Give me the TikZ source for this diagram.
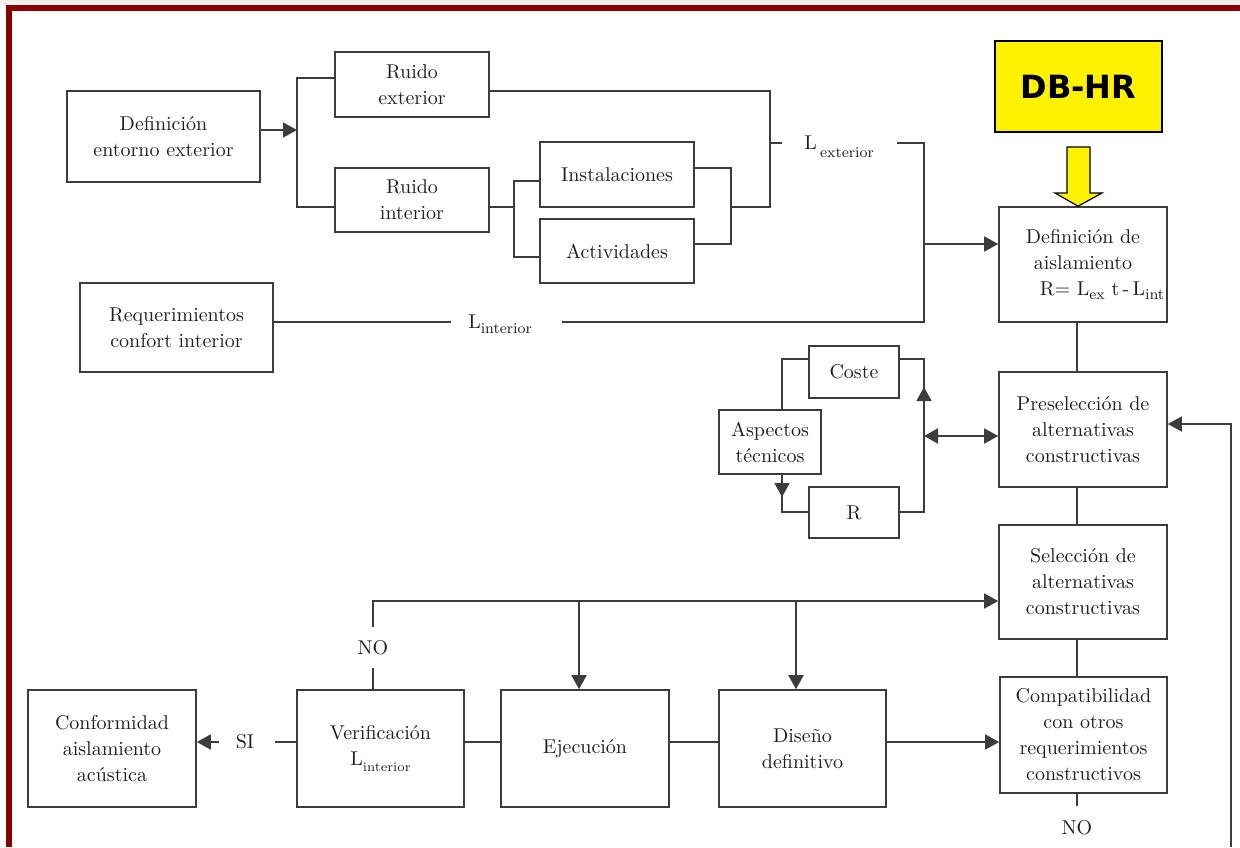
\documentclass[tikz,border=0pt]{standalone}
\usepackage{fontspec}
\newfontfamily\dbfont{DejaVu Sans}
\usetikzlibrary{arrows.meta}
\definecolor{linec}{HTML}{3C3C3C}
\definecolor{txtc}{HTML}{1E1E1E}
\definecolor{framered}{HTML}{880000}
\tikzset{
  bx/.style={draw=linec, line width=0.8pt, inner sep=0pt, align=center, text=txtc, font=\fontsize{10}{13}\selectfont},
  ln/.style={draw=linec, line width=0.8pt},
  arr/.style={ln, -{Triangle[length=7pt,width=7.5pt]}},
  arrtwo/.style={ln, {Triangle[length=7pt,width=7.5pt]}-{Triangle[length=7pt,width=7.5pt]}},
  lbl/.style={text=txtc, font=\fontsize{10}{13}\selectfont, inner sep=0pt},
}
\newcommand{\sub}[1]{\raisebox{-0.55ex}{\fontsize{7.5}{8}\selectfont #1}}
% box: name, x1, y1, x2, y2, extra style, text
\newcommand{\bx}[7]{\node[bx, minimum width={(#4-#2)*0.5pt}, minimum height={(#5-#3)*0.5pt}, #6] (#1) at ({(#2+#4)/2},{(#3+#5)/2}) {#7};}
\begin{document}
\begin{tikzpicture}[x=0.5pt,y=-0.5pt]
\useasboundingbox (0,0) rectangle (1240,847);
% frame
\fill[gray!12] (0,0) rectangle (1240,5);
\fill[framered] (6,5) rectangle (1240,11);
\fill[framered] (6,5) rectangle (12,847);

% boxes
\bx{defext}{67}{91}{260}{182}{}{Definición\\entorno exterior}
\bx{rext}{335}{52}{489}{117}{}{Ruido\\exterior}
\bx{rint}{335}{168}{489}{232}{}{Ruido\\interior}
\bx{inst}{540}{142}{694}{207}{}{Instalaciones}
\bx{activ}{540}{219}{694}{283}{}{Actividades}
\bx{req}{80}{283}{273}{372}{}{Requerimientos\\confort interior}
\bx{dbhr}{995}{41}{1162}{132}{draw=black, line width=1.2pt, fill=yellow, text=black, font=\dbfont\bfseries\fontsize{16}{16}\selectfont}{DB-HR}
\bx{defais}{999}{207}{1167}{322}{}{Definición de\\aislamiento\\\hspace*{19pt}R=\ L\sub{ex}\ t\,-\,L\sub{int}}
\bx{presel}{999}{372}{1167}{487}{}{Preselección de\\alternativas\\constructivas}
\bx{coste}{809}{346}{899}{398}{}{Coste}
\bx{asp}{719}{410}{821}{474}{}{Aspectos\\técnicos}
\bx{rbox}{809}{487}{899}{538}{}{R}
\bx{selec}{999}{525}{1167}{639}{}{Selección de\\alternativas\\constructivas}
\bx{compat}{1000}{677}{1167}{793}{}{Compatibilidad\\con otros\\requerimientos\\constructivos}
\bx{conf}{28}{690}{196}{807}{}{Conformidad\\aislamiento\\acústica}
\bx{verif}{297}{690}{464}{807}{}{Verificación\\L\raisebox{-0.6ex}{\fontsize{6.5}{7}\selectfont interior}}
\bx{ejec}{501}{690}{669}{807}{}{Ejecución}
\bx{diseno}{719}{690}{886}{807}{}{Diseño\\definitivo}

% labels
\node[lbl] (lext) at (839,147) {L\,\raisebox{-0.9ex}{\fontsize{7.5}{8}\selectfont exterior}};
\node[lbl] (lint) at (500,324) {L\raisebox{-0.6ex}{\fontsize{7.5}{8}\selectfont interior}};
\node[lbl] (si) at (245,742) {SI};
\node[lbl] (no1) at (373,648) {NO};
\node[lbl] (no2) at (1077,828) {NO};

% yellow arrow DB-HR -> definicion
\filldraw[fill=yellow, draw=black, line width=0.6pt] (1067,147) -- (1090,147) -- (1090,193) -- (1102,193) -- (defais.north -| 1078,0) -- (1055,193) -- (1067,193) -- cycle;

% coordinates
\coordinate (jA) at (297,130);
\coordinate (ja1) at (297,78);
\coordinate (ja2) at (297,207);
\coordinate (jb0) at (770,91);
\coordinate (jb1) at (770,207);
\coordinate (jc0) at (731,168);
\coordinate (jc1) at (731,244);
\coordinate (jc) at (731,207);
\coordinate (jd0) at (514,181);
\coordinate (jd1) at (514,257);
\coordinate (jd) at (514,207);
\coordinate (je0) at (770,143);
\coordinate (je1) at (782,143);
\coordinate (je2) at (897,143);
\coordinate (je3) at (924,143);
\coordinate (je4) at (924,322);
\coordinate (je5) at (924,244);
\coordinate (jf0) at (451,322);
\coordinate (jf1) at (562,322);
\coordinate (kx) at (1077,0);
\coordinate (nob) at (1077,806);
\coordinate (fb0) at (1231,847);
\coordinate (fb1) at (1231,424);
\coordinate (g0) at (782,359);
\coordinate (g1) at (782,512);
\coordinate (g2) at (782,497);
\coordinate (g3) at (924,359);
\coordinate (g4) at (924,512);
\coordinate (g5) at (924,436);
\coordinate (g6) at (924,387);
\coordinate (h0) at (297,742);
\coordinate (h1) at (275,742);
\coordinate (h2) at (219,742);
\coordinate (n0) at (373,668);
\coordinate (n1) at (373,627);
\coordinate (n2) at (373,601);
\coordinate (n3) at (579,601);
\coordinate (n4) at (796,601);

% top connectors
\draw[arr] (defext.east |- jA) -- (jA);
\draw[ln] (ja1 -| rext.west) -- (ja1) -- (ja2) -- (ja2 -| rint.west);
\draw[ln] (jb0 -| rext.east) -- (jb0) -- (jb1) -- (jc);
\draw[ln] (jc0 -| inst.east) -- (jc0) -- (jc1) -- (jc1 -| activ.east);
\draw[ln] (rint.east |- jd) -- (jd);
\draw[ln] (jd0 -| inst.west) -- (jd0) -- (jd1) -- (jd1 -| activ.west);
\draw[ln] (je0) -- (je1);
\draw[ln] (req.east |- jf0) -- (jf0);
\draw[ln] (jf1) -- (je4) -- (je3) -- (je2);
\draw[arr] (je5) -- (je5 -| defais.west);

% right column
\draw[ln] (defais.south -| kx) -- (presel.north -| kx);
\draw[ln] (presel.south -| kx) -- (selec.north -| kx);
\draw[ln] (selec.south -| kx) -- (compat.north -| kx);
\draw[ln] (compat.south -| kx) -- (nob);
\draw[arr] (fb0) -- (fb1) -- (fb1 -| presel.east);

% coste / aspectos / R
\draw[ln] (g0 -| coste.west) -- (g0) -- (g0 |- asp.north);
\draw[ln] (asp.south -| g0) -- (g1) -- (g1 -| rbox.west);
\draw[arr] (asp.south -| g0) -- (g2);
\draw[ln] (g3 -| coste.east) -- (g3) -- (g4) -- (g4 -| rbox.east);
\draw[arr] (g5) -- (g6);
\draw[arrtwo] (g5) -- (g5 -| presel.west);

% bottom row
\draw[ln] (verif.west |- h0) -- (h1);
\draw[arr] (h2) -- (h2 -| conf.east);
\draw[ln] (verif.north -| n0) -- (n0);
\draw[arr] (n1) -- (n2) -- (n2 -| selec.west);
\draw[arr] (n3) -- (n3 |- ejec.north);
\draw[arr] (n4) -- (n4 |- diseno.north);
\draw[ln] (verif.east |- h0) -- (ejec.west |- h0);
\draw[ln] (ejec.east |- h0) -- (diseno.west |- h0);
\draw[arr] (diseno.east |- h0) -- (compat.west |- h0);
\end{tikzpicture}
\end{document}
